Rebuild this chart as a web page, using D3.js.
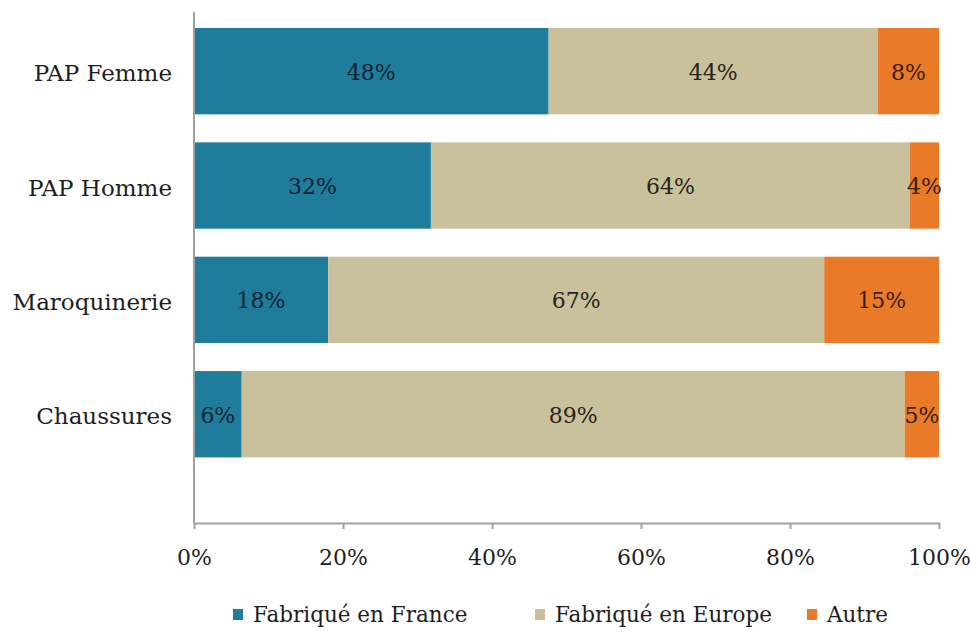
<!DOCTYPE html>
<html><head><meta charset="utf-8">
<script src="https://cdn.jsdelivr.net/npm/d3@7"></script>
<style>body{margin:0;background:#fff;}</style>
</head><body>
<svg id="c" width="970" height="635" font-family="'DejaVu Serif', 'Liberation Serif', serif"></svg>
<script>
const categories = ["PAP Femme","PAP Homme","Maroquinerie","Chaussures"];
const seriesNames = ["Fabriqué en France","Fabriqué en Europe","Autre"];
const france = [47.6, 31.8, 18.0, 6.4];
const europe = [44.2, 64.3, 66.6, 89.0];
const autre  = [8.2, 3.9, 15.4, 4.6];
const ticks = [0,20,40,60,80,100];
const colors = ["#1f7d9b","#c8c19c","#e97a28"];
const labelColors = ["#0f2233","#2a2418","#3a1e08"];
const FONT = "'DejaVu Serif', 'Liberation Serif', serif";

const svg = d3.select("#c");
const x = d3.scaleLinear().domain([0,100]).range([194,939]);
const y = d3.scaleBand().domain(categories).range([13.7,471.7]).paddingInner(0.245).paddingOuter(0.125);

const rows = categories.map((c,i)=>({cat:c, france:france[i], europe:europe[i], autre:autre[i]}));
const stack = d3.stack().keys(["france","europe","autre"])(rows);

stack.forEach((layer,k)=>{
  const g = svg.append("g");
  g.selectAll("rect").data(layer).join("rect")
    .attr("x",d=>x(d[0])).attr("width",d=>x(d[1])-x(d[0]))
    .attr("y",d=>y(d.data.cat)).attr("height",y.bandwidth())
    .attr("fill",colors[k]);
  g.selectAll("text").data(layer).join("text")
    .attr("x",d=>(x(d[0])+x(d[1]))/2).attr("y",d=>y(d.data.cat)+y.bandwidth()/2+1)
    .attr("text-anchor","middle").attr("dominant-baseline","central")
    .attr("font-family",FONT).attr("font-size",22).attr("fill",labelColors[k])
    .text(d=>Math.round(d[1]-d[0])+"%");
});

svg.append("line").attr("x1",194).attr("x2",194).attr("y1",12).attr("y2",523)
  .attr("stroke","#a0a0a0").attr("stroke-width",2);
svg.selectAll("text.cat").data(categories).join("text").attr("class","cat")
  .attr("x",172).attr("y",d=>y(d)+y.bandwidth()/2+2)
  .attr("text-anchor","end").attr("dominant-baseline","central")
  .attr("font-family",FONT).attr("font-size",23).attr("fill","#1e1e1e").text(d=>d);

const xAxis = d3.axisBottom(x).tickValues(ticks).tickFormat(d=>d+"%").tickSize(6).tickSizeOuter(0);
const ax = svg.append("g").attr("transform","translate(0,523)").call(xAxis);
ax.attr("font-family",FONT);
ax.select(".domain").attr("stroke","#a0a0a0").attr("stroke-width",2);
ax.selectAll(".tick line").attr("stroke","#a0a0a0").attr("stroke-width",2);
ax.selectAll(".tick text").attr("font-size",22).attr("fill","#1e1e1e").attr("dy",0).attr("y",42);

const legendX = [233, 535, 807];
const lg = svg.append("g");
seriesNames.forEach((n,i)=>{
  lg.append("rect").attr("x",legendX[i]).attr("y",609).attr("width",10).attr("height",11).attr("fill",colors[i]);
  lg.append("text").attr("x",legendX[i]+20).attr("y",622)
    .attr("font-family",FONT).attr("font-size",21.5).attr("fill","#1e1e1e").text(n);
});
</script>
</body></html>
